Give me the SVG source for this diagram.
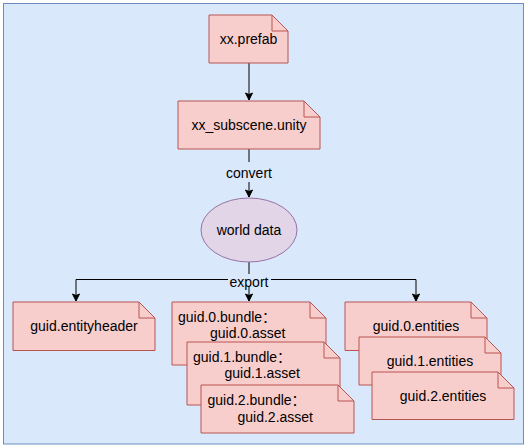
<svg xmlns="http://www.w3.org/2000/svg" width="528" height="448" viewBox="0 0 528 448">
<defs>
<style>
.note{fill:#f8cecc;stroke:#b85450;stroke-width:1}
.fold{fill:none;stroke:#b85450;stroke-width:1}
.t{font-family:"Liberation Sans","Noto Sans CJK SC",Arial,sans-serif;font-size:14px;fill:#000}
.c{text-anchor:middle}
.edge{fill:none;stroke:#000;stroke-width:1}
.lbl{fill:#dae8fc}
</style>
<marker id="arr" markerUnits="userSpaceOnUse" markerWidth="10" markerHeight="10" viewBox="-8 -5 10 10" refX="0" refY="0" orient="auto">
<path d="M-7,-3.5 L0,0 L-7,3.5 L-5.5,0 Z" fill="#000" stroke="#000" stroke-width="1"/>
</marker>
</defs>
<rect id="container" x="3.5" y="3.5" width="520" height="440.5" fill="#dae8fc" stroke="#6c8ebf" stroke-width="1"/>

<g id="connectors">
<path class="edge" d="M249,63 V100" marker-end="url(#arr)"/>
<path class="edge" d="M249,149 V197" marker-end="url(#arr)"/>
<path class="edge" d="M249,262 V301" marker-end="url(#arr)"/>
<path class="edge" d="M249,279.5 H76 V301" marker-end="url(#arr)"/>
<path class="edge" d="M249,279.5 H416 V301" marker-end="url(#arr)"/>
<rect class="lbl" x="224" y="162" width="50" height="20"/>
<text class="t c" x="249" y="178">convert</text>
<rect class="lbl" x="228" y="274" width="43" height="13"/>
<text class="t c" x="249" y="286.5">export</text>
</g>

<g id="prefab">
<path class="note" d="M209,15 H272 L288,31 V63 H209 Z"/>
<path class="fold" d="M272,15 V31 H288"/>
<text class="t c" x="248.5" y="44">xx.prefab</text>
</g>

<g id="subscene">
<path class="note" d="M178,101 H304 L320,117 V149 H178 Z"/>
<path class="fold" d="M304,101 V117 H320"/>
<text class="t c" x="249" y="130">xx_subscene.unity</text>
</g>

<g id="worlddata">
<ellipse cx="249" cy="230" rx="48" ry="32" fill="#e1d5e7" stroke="#9673a6" stroke-width="1"/>
<text class="t c" x="249" y="235">world data</text>
</g>

<g id="entityheader">
<path class="note" d="M13,302 H139 L155,318 V350.5 H13 Z"/>
<path class="fold" d="M139,302 V318 H155"/>
<text class="t c" x="84" y="331">guid.entityheader</text>
</g>

<g id="bundle0">
<path class="note" d="M172,302 H310 L326,318 V365 H172 Z"/>
<path class="fold" d="M310,302 V318 H326"/>
<text class="t" x="178" y="321.5">guid.0.bundle：</text>
<text class="t" x="210" y="338">guid.0.asset</text>
</g>

<g id="bundle1">
<path class="note" d="M187,342 H324 L340,358 V405 H187 Z"/>
<path class="fold" d="M324,342 V358 H340"/>
<text class="t" x="193" y="361.5">guid.1.bundle：</text>
<text class="t" x="224.5" y="377.5">guid.1.asset</text>
</g>

<g id="bundle2">
<path class="note" d="M201,385 H338 L354,401 V433 H201 Z"/>
<path class="fold" d="M338,385 V401 H354"/>
<text class="t" x="207.5" y="405">guid.2.bundle：</text>
<text class="t" x="237.5" y="422">guid.2.asset</text>
</g>

<g id="entities0">
<path class="note" d="M345,302 H471 L487,318 V350.5 H345 Z"/>
<path class="fold" d="M471,302 V318 H487"/>
<text class="t c" x="416" y="331">guid.0.entities</text>
</g>

<g id="entities1">
<path class="note" d="M359,337 H485 L501,353 V385 H359 Z"/>
<path class="fold" d="M485,337 V353 H501"/>
<text class="t c" x="430" y="366">guid.1.entities</text>
</g>

<g id="entities2">
<path class="note" d="M372,372 H498 L514,388 V419.5 H372 Z"/>
<path class="fold" d="M498,372 V388 H514"/>
<text class="t c" x="443" y="401">guid.2.entities</text>
</g>
</svg>
